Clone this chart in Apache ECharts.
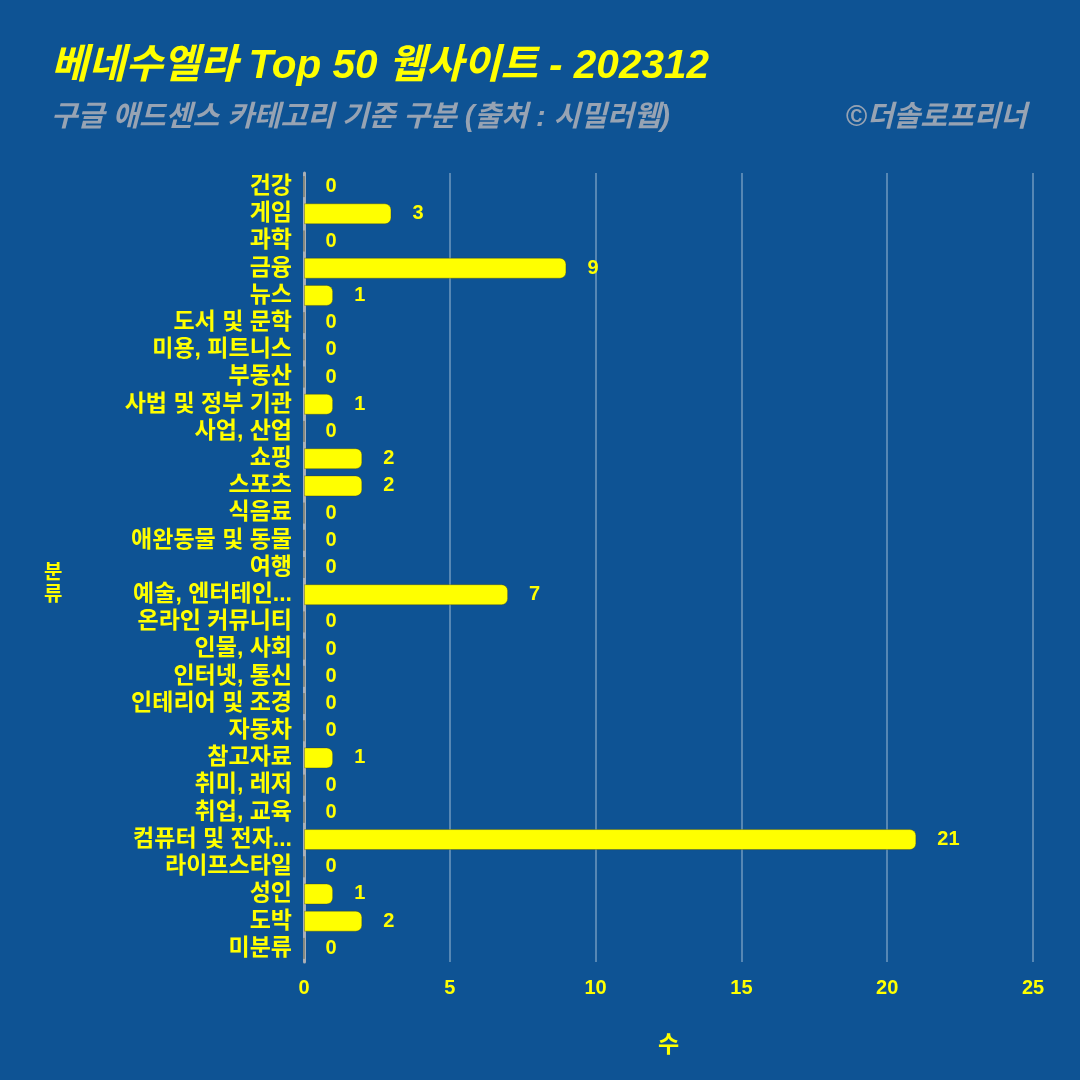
<!DOCTYPE html>
<html><head><meta charset="utf-8">
<script src="https://cdn.jsdelivr.net/npm/echarts@6/dist/echarts.min.js"></script>
<style>html,body{margin:0;padding:0;background:#0E5394;}#c{width:1080px;height:1080px;}</style>
</head><body><div id="c"></div>
<script>
const categories = ['건강','게임','과학','금융','뉴스','도서 및 문학','미용, 피트니스','부동산','사법 및 정부 기관','사업, 산업','쇼핑','스포츠','식음료','애완동물 및 동물','여행','예술, 엔터테인...','온라인 커뮤니티','인물, 사회','인터넷, 통신','인테리어 및 조경','자동차','참고자료','취미, 레저','취업, 교육','컴퓨터 및 전자...','라이프스타일','성인','도박','미분류'];
const values = [0,3,0,9,1,0,0,0,1,0,2,2,0,0,0,7,0,0,0,0,0,1,0,0,21,0,1,2,0];
const xTicks = [0,5,10,15,20,25];
const titleText = '베네수엘라 Top 50 웹사이트 - 202312';
const subtitleText = '구글 애드센스 카테고리 기준 구분 (출처 : 시밀러웹)';
const creditText = '©더솔로프리너';

const FONT = '"Liberation Sans", "Noto Sans CJK KR", sans-serif';
const YEL = '#FFFF00';
const chart = echarts.init(document.getElementById('c'));
chart.setOption({
  backgroundColor: '#0E5394',
  animation: false,
  title: [
    {text: titleText, left: 46, top: 42, textStyle: {color: YEL, fontFamily: FONT, fontSize: 40.5, fontWeight: 'bold', fontStyle: 'italic'}},
    {text: subtitleText, left: 46, top: 98, textStyle: {color: '#97A3B3', fontFamily: FONT, fontSize: 29, fontWeight: 'bold', fontStyle: 'italic'}},
    {text: creditText, right: 48, top: 98, textStyle: {color: '#97A3B3', fontFamily: FONT, fontSize: 29, fontWeight: 'bold', fontStyle: 'italic'}}
  ],
  graphic: [{type: 'text', left: 44, top: 560, style: {text: '분\n류', fill: YEL, font: 'bold 20px "Noto Sans CJK KR"', lineHeight: 22}}],
  grid: {left: 304, right: 47, top: 173, bottom: 118},
  xAxis: {
    type: 'value', min: 0, max: xTicks[xTicks.length-1], interval: 5,
    name: '수', nameLocation: 'middle', nameGap: 72,
    nameTextStyle: {color: YEL, fontFamily: FONT, fontSize: 23, fontWeight: 'bold'},
    axisLine: {show: false}, axisTick: {show: false},
    axisLabel: {color: YEL, fontFamily: FONT, fontSize: 20, fontWeight: 'bold', margin: 16},
    splitLine: {lineStyle: {color: 'rgba(255,255,255,0.3)', width: 2}}
  },
  yAxis: {
    type: 'category', data: categories, inverse: true,
    axisLine: {show: true, lineStyle: {color: '#A9AEB5', width: 3}},
    axisTick: {show: false},
    axisLabel: {color: YEL, fontFamily: FONT, fontSize: 23, fontWeight: 'bold', margin: 12, interval: 0}
  },
  series: [{
    type: 'bar', data: values, barWidth: 21,
    itemStyle: {color: YEL, borderColor: 'rgba(60,60,20,0.35)', borderWidth: 1, borderRadius: [0,6,6,0]},
    label: {show: true, position: 'right', distance: 21, color: YEL, fontFamily: FONT, fontSize: 20, fontWeight: 'bold'}
  }]
});
</script></body></html>
